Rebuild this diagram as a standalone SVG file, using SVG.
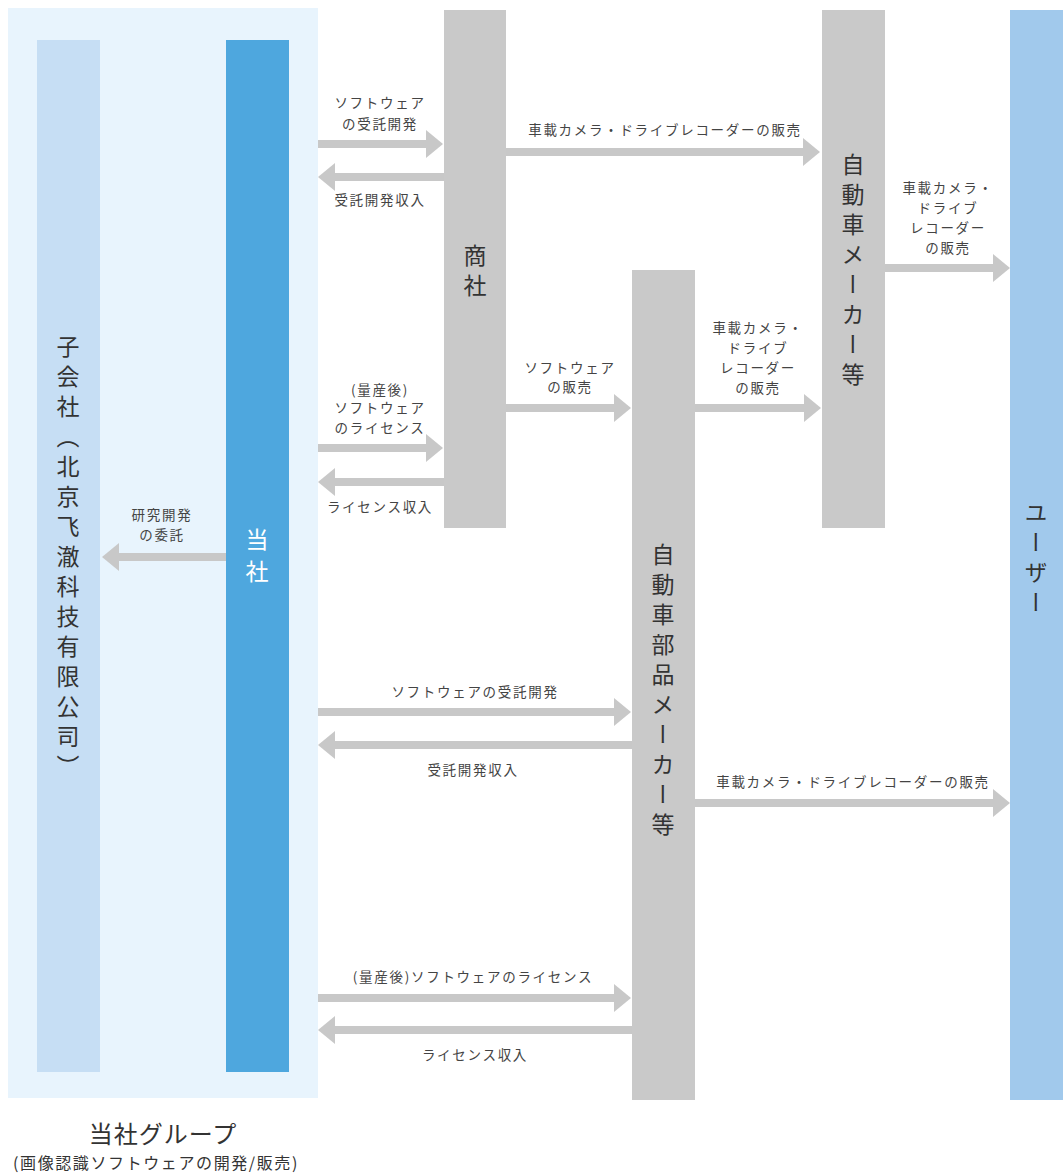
<svg xmlns="http://www.w3.org/2000/svg" width="1063" height="1176" viewBox="0 0 1063 1176">
<style>
.lbl{font-family:"Noto Sans CJK JP","Noto Sans",sans-serif;font-size:13.5px;fill:#444;text-anchor:middle;letter-spacing:1.7px}
.vt{font-family:"Noto Sans CJK JP","Noto Sans",sans-serif;font-size:23px;fill:#333;text-anchor:middle;writing-mode:vertical-rl;letter-spacing:7px}
.gray{fill:#c9c9c9}
.arr{stroke:#c8c8c8;stroke-width:8;fill:none;marker-end:url(#ah)}
</style>
<defs>
<marker id="ah" markerUnits="userSpaceOnUse" markerWidth="17" markerHeight="28" refX="5" refY="14" orient="auto" viewBox="0 0 17 28">
<path d="M0,0 L17,14 L0,28 Z" fill="#c8c8c8"/>
</marker>
</defs>
<rect width="1063" height="1176" fill="#ffffff"/>
<g id="group-bg">
<rect x="8" y="8" width="310" height="1090" fill="#e8f4fd"/>
</g>
<g id="subsidiary">
<rect x="37" y="40" width="63" height="1032" fill="#c6def4"/>
<text class="vt" x="68" y="560">子会社（北京飞澈科技有限公司）</text>
</g>
<g id="tousha">
<rect x="226" y="40" width="63" height="1032" fill="#4ea7de"/>
<text class="vt" x="257" y="560" style="fill:#ffffff;letter-spacing:9px">当社</text>
</g>
<g id="shosha">
<rect class="gray" x="444" y="10" width="62" height="518"/>
<text class="vt" x="475" y="274">商社</text>
</g>
<g id="automaker">
<rect class="gray" x="822" y="10" width="63" height="518"/>
<text class="vt" x="853" y="273">自動車メーカー等</text>
</g>
<g id="partsmaker">
<rect class="gray" x="632" y="270" width="63" height="830"/>
<text class="vt" x="663" y="693">自動車部品メーカー等</text>
</g>
<g id="user">
<rect x="1010" y="10" width="53" height="1090" fill="#a1c9ec"/>
<text class="vt" x="1036" y="561">ユーザー</text>
</g>
<g id="connectors">
<line class="arr" x1="318" y1="144" x2="431" y2="144"/>
<line class="arr" x1="444" y1="177" x2="330" y2="177"/>
<line class="arr" x1="506" y1="152" x2="808" y2="152"/>
<line class="arr" x1="885" y1="268" x2="998" y2="268"/>
<line class="arr" x1="506" y1="408" x2="619" y2="408"/>
<line class="arr" x1="318" y1="448" x2="431" y2="448"/>
<line class="arr" x1="444" y1="482" x2="330" y2="482"/>
<line class="arr" x1="695" y1="408" x2="809" y2="408"/>
<line class="arr" x1="226" y1="557" x2="114" y2="557"/>
<line class="arr" x1="318" y1="712" x2="619" y2="712"/>
<line class="arr" x1="632" y1="745" x2="330" y2="745"/>
<line class="arr" x1="695" y1="803" x2="998" y2="803"/>
<line class="arr" x1="318" y1="998" x2="619" y2="998"/>
<line class="arr" x1="632" y1="1030" x2="330" y2="1030"/>
</g>
<g id="labels">
<text class="lbl" x="380" y="108">ソフトウェア</text>
<text class="lbl" x="380" y="129">の受託開発</text>
<text class="lbl" x="380" y="205">受託開発収入</text>
<text class="lbl" x="665" y="135">車載カメラ・ドライブレコーダーの販売</text>
<text class="lbl" x="948" y="193">車載カメラ・</text>
<text class="lbl" x="948" y="213">ドライブ</text>
<text class="lbl" x="948" y="233">レコーダー</text>
<text class="lbl" x="948" y="253">の販売</text>
<text class="lbl" x="570" y="373">ソフトウェア</text>
<text class="lbl" x="570" y="392">の販売</text>
<text class="lbl" x="380" y="395">(量産後)</text>
<text class="lbl" x="380" y="413">ソフトウェア</text>
<text class="lbl" x="380" y="433">のライセンス</text>
<text class="lbl" x="380" y="512">ライセンス収入</text>
<text class="lbl" x="758" y="333">車載カメラ・</text>
<text class="lbl" x="758" y="353">ドライブ</text>
<text class="lbl" x="758" y="373">レコーダー</text>
<text class="lbl" x="758" y="393">の販売</text>
<text class="lbl" x="162" y="520">研究開発</text>
<text class="lbl" x="162" y="540">の委託</text>
<text class="lbl" x="475" y="697">ソフトウェアの受託開発</text>
<text class="lbl" x="473" y="775">受託開発収入</text>
<text class="lbl" x="853" y="787">車載カメラ・ドライブレコーダーの販売</text>
<text class="lbl" x="473" y="982">(量産後)ソフトウェアのライセンス</text>
<text class="lbl" x="475" y="1060">ライセンス収入</text>
</g>
<g id="group-caption">
<text x="163" y="1143" style="font-family:'Noto Sans CJK JP','Noto Sans',sans-serif;font-size:24px;fill:#333;text-anchor:middle;letter-spacing:1px">当社グループ</text>
<text x="156" y="1169" style="font-family:'Noto Sans CJK JP','Noto Sans',sans-serif;font-size:16px;fill:#333;text-anchor:middle;letter-spacing:1.6px">(画像認識ソフトウェアの開発/販売)</text>
</g>
</svg>
